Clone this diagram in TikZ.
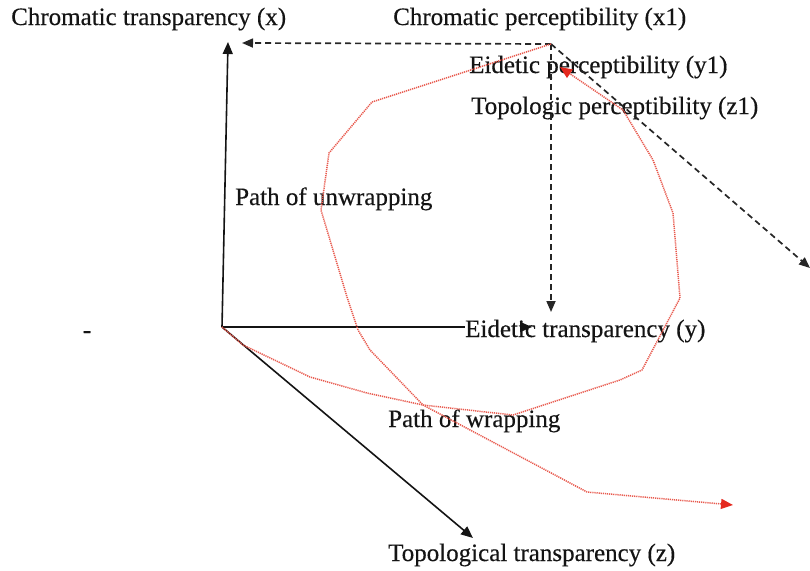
\documentclass[tikz,border=0pt]{standalone}
\usepackage{fontspec}
\setmainfont{Liberation Serif}[FakeBold=0.35]
\usetikzlibrary{arrows.meta}
\definecolor{redline}{RGB}{232,90,78}
\definecolor{redhead}{RGB}{228,40,30}
\definecolor{inkk}{RGB}{20,20,20}
\begin{document}
\begin{tikzpicture}[x=1pt,y=-1pt,
  lbl/.style={inner sep=0pt, anchor=base west, text=inkk, font=\fontsize{25}{30}\selectfont},
  axis/.style={line width=1.6pt, inkk},
  axarrow/.style={axis, -{Triangle[length=12pt,width=10pt]}},
  dasharrow/.style={line width=1.7pt, black!85, dash pattern=on 6pt off 4pt, -{Triangle[length=11pt,width=9pt]}},
  redpath/.style={line width=1.5pt, redline, dash pattern=on 1.2pt off 0.9pt, -{Triangle[length=12pt,width=10pt,color=redhead,fill=redhead]}}]
\useasboundingbox (0,0) rectangle (810,570);

% labels
\node[lbl] (Cx)  at (11,25)   {Chromatic transparency (x)};
\node[lbl] (Cx1) at (393,25)  {Chromatic perceptibility (x1)};
\node[lbl] (Ey1) at (469,73)  {Eidetic perceptibility (y1)};
\node[lbl] (Tz1) at (471,114) {Topologic perceptibility (z1)};
\node[lbl] (Pu)  at (235,205) {Path of unwrapping};
\node[lbl] (Ey)  at (465,337) {Eidetic transparency (y)};
\node[lbl] (Pw)  at (388,427) {Path of wrapping};
\node[lbl] (Tz)  at (388,561) {Topological transparency (z)};
\node[inner sep=0pt, anchor=base, text=inkk, font=\fontsize{25}{30}\selectfont] (dash) at (87,338) {-};

% coordinates
\coordinate (O) at (222,327);
\coordinate (xtip) at (228,42);
\coordinate (yhead) at (520,327);
\coordinate (ytip) at (532,327);
\coordinate (ztip) at (473,538);
\coordinate (C1) at (551,44);
\coordinate (x1tip) at (242,43);
\coordinate (y1tip) at (551,312);
\coordinate (z1tip) at (810,268);

% solid axes
\draw[axarrow] (O) -- (xtip);
\draw[axis] (O) -- (Ey.west |- O);
\draw[axarrow] (yhead) -- (ytip);
\draw[axarrow] (O) -- (ztip);

% dashed projections
\draw[dasharrow] (C1) -- (x1tip);
\draw[dasharrow] (C1) -- (y1tip);
\draw[dasharrow] (C1) -- (z1tip);

% path of wrapping (from origin, loops up to the perceptibility corner)
\draw[redpath] (O) -- (243,345) -- (310,377) -- (367,393) -- (423,405) -- (513,415)
  -- (620,380) -- (642,370) -- (680,298) -- (673,213) -- (653,160) -- (623,110) -- (560,67);

% path of unwrapping (from the corner back down and out)
\draw[redpath] (C1) -- (372,102) -- (329,153) -- (321,210) -- (347,297) -- (358,330)
  -- (370,350) -- (423,405) -- (587,492) -- (733,505);
\end{tikzpicture}
\end{document}
